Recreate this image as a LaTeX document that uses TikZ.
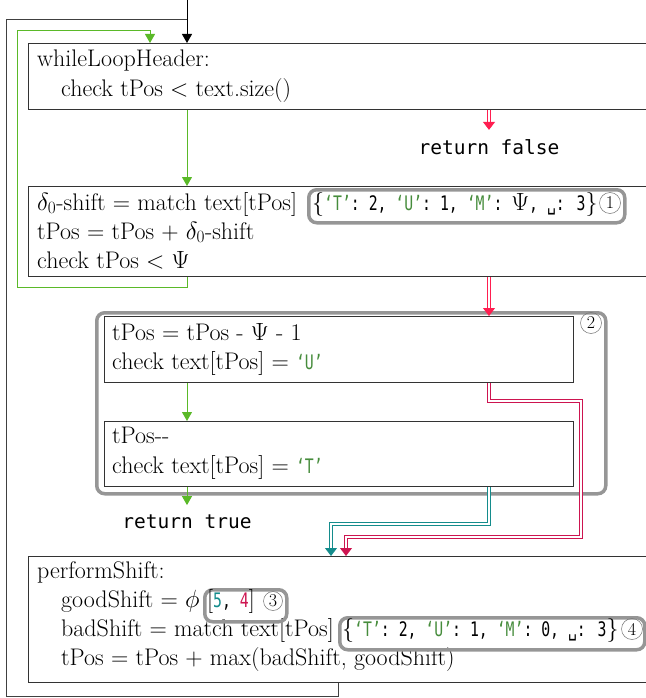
\documentclass[tikz,border=0pt]{standalone}
\usepackage{fontspec}
\setmonofont{DejaVu Sans Mono}
\newfontfamily\monoc{DejaVu Sans Mono}[FakeStretch=0.74]
\usetikzlibrary{arrows.meta}
\definecolor{cgreen}{RGB}{90,185,40}
\definecolor{qgreen}{RGB}{70,140,60}
\definecolor{cred}{RGB}{255,30,80}
\definecolor{cred2}{RGB}{205,20,80}
\definecolor{cteal}{RGB}{20,140,140}
\definecolor{hgray}{RGB}{150,150,150}
\newcommand\fs{\fontsize{24}{29}\selectfont}
\newcommand\ms{\fontsize{19.5}{24}\selectfont\ttfamily}
\newcommand\dq[1]{{\color{qgreen}‘#1’}}
\newcommand\dict[1]{{\fontsize{20}{24}\selectfont\monoc #1}}
\begin{document}
\begin{tikzpicture}[x=1pt,y=-1pt,
  box/.style={draw=black!80, line width=1pt, rectangle, inner sep=0pt, anchor=north west},
  txt/.style={anchor=base west, inner sep=0pt, font=\fs},
  hl/.style={draw=hgray, line width=3.5pt, rounded corners=8pt, inner sep=0pt, anchor=north west},
  num/.style={circle, draw=black!55, line width=0.5pt, inner sep=0pt, minimum size=21pt, font=\fontsize{18}{18}\selectfont},
  garrow/.style={draw=cgreen, line width=1pt, -{Triangle[length=9pt,width=10pt]}},
  dblarrow/.style={double=white, double distance=1.4pt, line width=0.9pt, -{Triangle[length=8pt,width=12pt]}},
  looparrow/.style={draw=black!75, line width=1pt},
  ret/.style={anchor=base, inner xsep=0pt, inner ysep=9pt, font=\ms}
]
\useasboundingbox (0,0) rectangle (645,698);

% boxes
\node[box, minimum width=630pt, minimum height=66pt] (wh) at (28,43) {};
\node[box, minimum width=630pt, minimum height=90pt] (sh) at (28,186) {};
\node[hl, minimum width=509pt, minimum height=181pt] (g2) at (95,311) {};
\node[box, minimum width=469pt, minimum height=66pt] (ba) at (104,316) {};
\node[box, minimum width=469pt, minimum height=65pt] (bb) at (104,421) {};
\node[box, minimum width=630pt, minimum height=126pt] (ps) at (28,556) {};

% texts
\node[txt] (t1) at (37,67) {whileLoopHeader:};
\node[txt] (t2) at (61,97) {check tPos < text.size()};
\node[txt] (s1) at (37,210) {$\delta_0$-shift = match text[tPos]};
\node[txt] (s2) at (37,239) {tPos = tPos + $\delta_0$-shift};
\node[txt] (s3) at (37,268) {check tPos < $\Psi$};
\node[txt] (a1) at (112,340) {tPos = tPos - $\Psi$ - 1};
\node[txt] (a2) at (112,369) {check text[tPos] = \dict{\dq{U}}};
\node[txt] (b1) at (112,443) {tPos-{}-};
\node[txt] (b2) at (112,473) {check text[tPos] = \dict{\dq{T}}};
\node[txt] (p1) at (37,578) {performShift:};
\node[txt] (p2) at (61,607) {goodShift = $\phi$};
\node[txt] (p3) at (61,636) {badShift = match text[tPos]};
\node[txt] (p4) at (61,665) {tPos = tPos + max(badShift, goodShift)};

% highlights
\node[hl, minimum width=316pt, minimum height=33pt] (g1) at (307,188) {};
\node[txt] (d1) at (312,210) {\{\dict{\dq{T}: 2, \dq{U}: 1, \dq{M}: }$\Psi$\dict{, ␣: 3}\}};
\node[num] (n1) at (610,203) {1};
\node[hl, minimum width=82pt, minimum height=32pt] (g3) at (203,588) {};
\node[txt] (d3) at (207,607) {[\dict{{\color{cteal}5}, {\color{cred2}4}}]};
\node[num, minimum size=19pt] (n3) at (273,601) {3};
\node[hl, minimum width=305pt, minimum height=32pt] (g4) at (338,616) {};
\node[txt] (d4) at (342,636) {\{\dict{\dq{T}: 2, \dq{U}: 1, \dq{M}: 0, ␣: 3}\}};
\node[num] (n4) at (632,629) {4};
\node[num] (n2) at (591,323) {2};

% returns
\node[ret] (rf) at (489,154) {return false};
\node[ret] (rt) at (187,528) {return true};

% coordinates
\coordinate (top) at (187,0);
\coordinate (rx) at (489,0);
\coordinate (gl) at (338,696);
\coordinate (gl2) at (6,20);
\coordinate (gl3) at (17,287);
\coordinate (gin) at (150,31);
\coordinate (r3a) at (581,401);
\coordinate (r3b) at (346,537);
\coordinate (t3) at (331,524);

% connectors
\draw[looparrow] (gl |- ps.south) -- (gl) -| (gl2) -- (gl2 -| top);
\draw[draw=black, line width=1pt, -{Triangle[length=9pt,width=10pt]}] (top) -- (top |- wh.north);
\draw[garrow] (top |- wh.south) -- (top |- sh.north);
\draw[garrow] (top |- sh.south) |- (gl3) |- (gin) -- (gin |- wh.north);
\draw[garrow] (top |- ba.south) -- (top |- bb.north);
\draw[garrow] (top |- bb.south) -- (rt.north);
\draw[dblarrow, draw=cred] (rx |- wh.south) -- (rf.north);
\draw[dblarrow, draw=cred] (rx |- sh.south) -- (rx |- ba.north);
\draw[dblarrow, draw=cred2] (rx |- ba.south) |- (r3a) |- (r3b) -- (r3b |- ps.north);
\draw[dblarrow, draw=cteal] (rx |- bb.south) |- (t3) -- (t3 |- ps.north);
\end{tikzpicture}
\end{document}
